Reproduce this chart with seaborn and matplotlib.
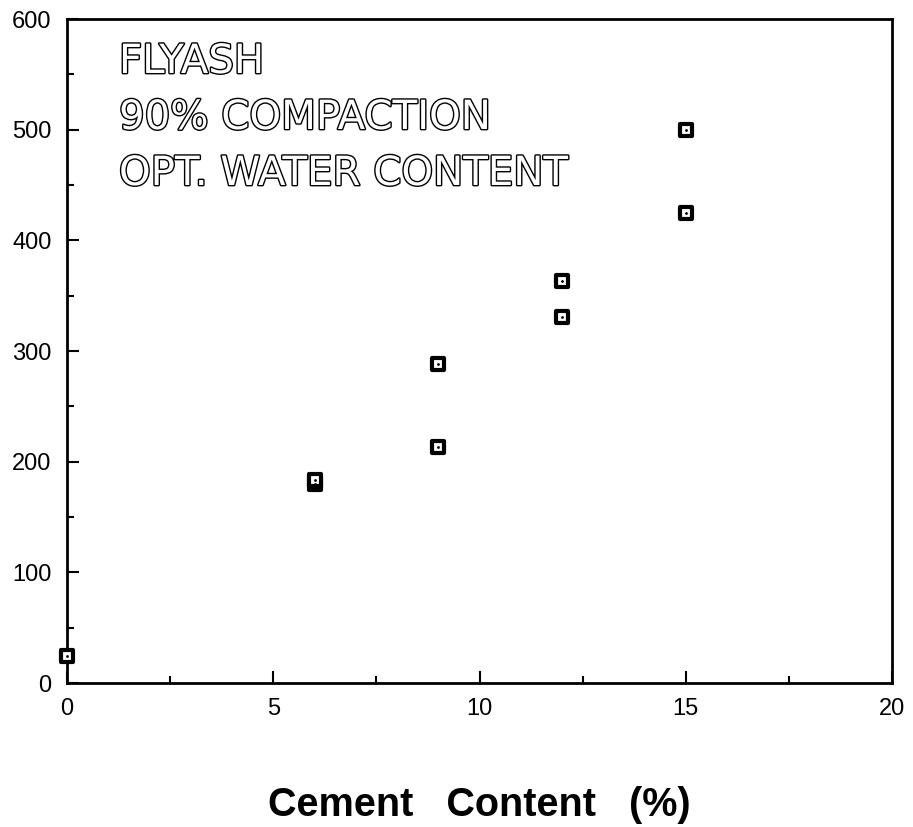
import matplotlib
matplotlib.use("Agg")
import matplotlib.pyplot as plt
import matplotlib.patheffects as pe
import seaborn as sns
import pandas as pd
from matplotlib.ticker import MultipleLocator

cement = [0, 6, 6, 9, 9, 12, 12, 15, 15]
strength = [24, 180, 183, 288, 213, 363, 331, 500, 425]
labels = ["FLYASH", "90% COMPACTION", "OPT. WATER CONTENT"]
xlabel = "Cement   Content   (%)"

df = pd.DataFrame({"cement": cement, "strength": strength})

sns.set_theme(style="white")
plt.rcParams['font.family'] = ['Liberation Sans', 'DejaVu Sans']

W, H = 913, 827
L, R, T, B = 67, 892, 19, 683
fig = plt.figure(figsize=(W / 100, H / 100), dpi=100)
ax = fig.add_axes([L / W, 1 - B / H, (R - L) / W, (B - T) / H])

sns.scatterplot(data=df, x="cement", y="strength", ax=ax, marker="s", s=72,
                facecolor="white", edgecolor="black", linewidth=3.0, clip_on=False, zorder=3)
sns.scatterplot(data=df, x="cement", y="strength", ax=ax, marker="o", s=4,
                color="black", linewidth=0, clip_on=False, zorder=4)

ax.set_xlim(0, 20)
ax.set_ylim(0, 600)
ax.xaxis.set_major_locator(MultipleLocator(5))
ax.xaxis.set_minor_locator(MultipleLocator(2.5))
ax.yaxis.set_major_locator(MultipleLocator(100))
ax.yaxis.set_minor_locator(MultipleLocator(50))
ax.tick_params(which="both", direction="in", colors="black", labelsize=17, width=1.5)
ax.tick_params(which="major", length=8.6)
ax.tick_params(which="minor", length=5)
ax.tick_params(axis="x", which="both", bottom=True, top=False, pad=11)
ax.tick_params(axis="y", which="both", left=True, right=False, pad=11)
for s in ax.spines.values():
    s.set_color("black")
    s.set_linewidth(2)

ax.set_ylabel("")
ax.set_xlabel(xlabel, fontsize=28.5, fontweight="bold", color="black", labelpad=47)

for i, t in enumerate(labels):
    yc = 62 + 56 * i
    ax.text((119 - L) / (R - L), 1 - (yc - T) / (B - T), t,
            transform=ax.transAxes, fontsize=29, family="DejaVu Sans",
            color="white", va="center", ha="left",
            path_effects=[pe.withStroke(linewidth=2.0, foreground="black")])

fig.savefig("out.png", dpi=100)
